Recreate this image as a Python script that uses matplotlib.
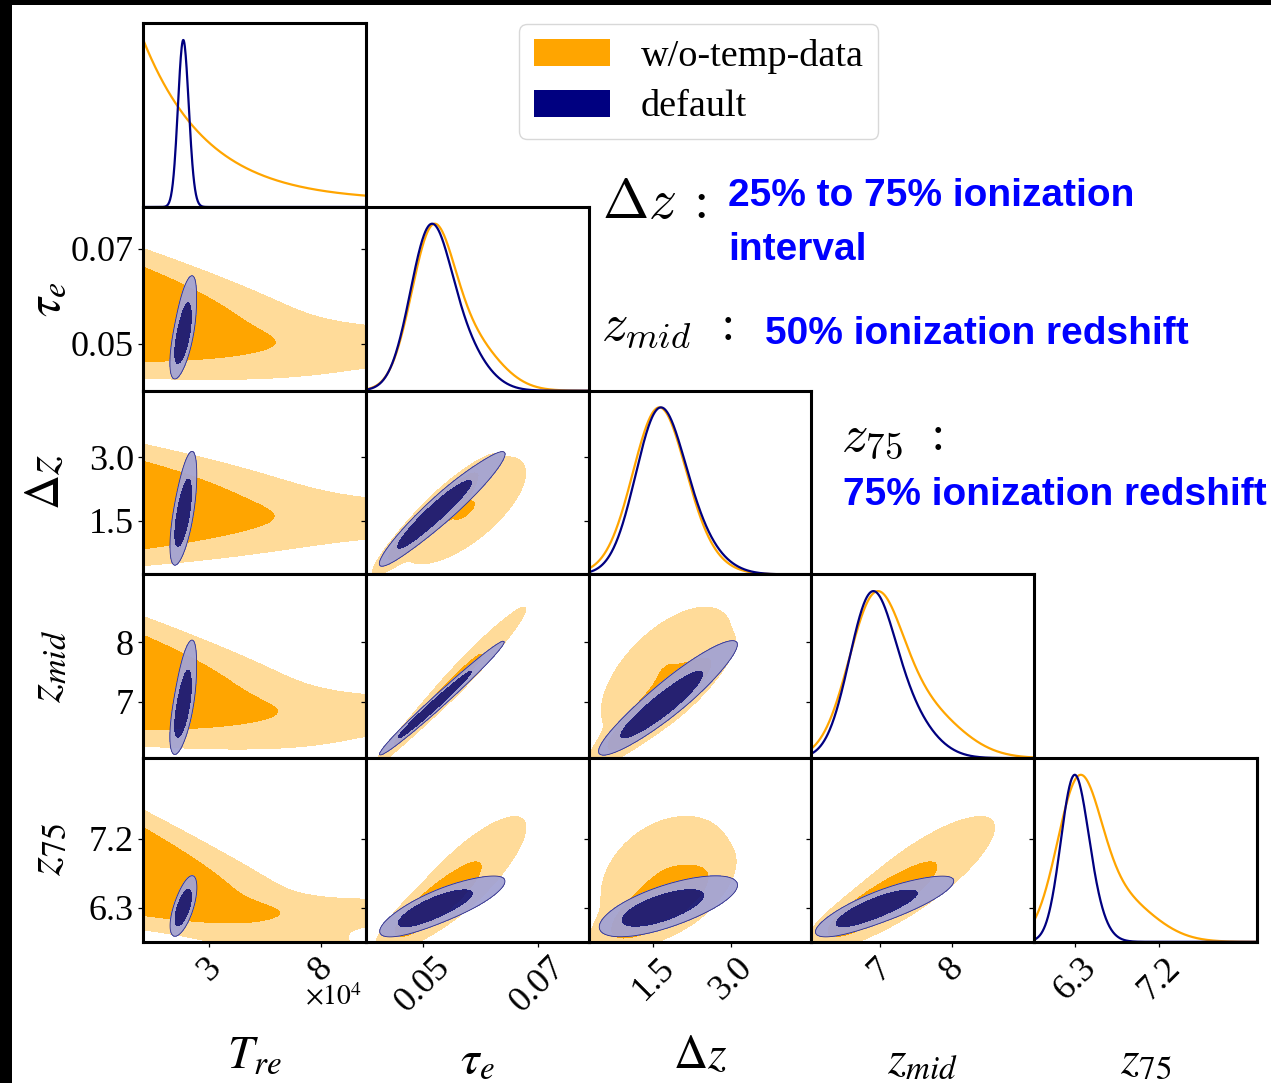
import numpy as np
import matplotlib
matplotlib.use("Agg")
import matplotlib.pyplot as plt
from matplotlib.patches import Patch, Rectangle

# ----------------------------------------------------------------------
# parameters, axis ranges and ticks (T_re in units of 1e4 K)
# ----------------------------------------------------------------------
LABELS = [r"$T_{re}$", r"$\tau_e$", r"$\Delta z$", r"$z_{mid}$", r"$z_{75}$"]
LIMITS = [(0.04, 10.03), (0.0402, 0.0787), (0.245, 4.56), (6.06, 9.13), (5.856, 8.25)]
TICKS = [[3, 8], [0.05, 0.07], [1.5, 3.0], [7, 8], [6.3, 7.2]]
TICK_LABELS = [["3", "8"], ["0.05", "0.07"], ["1.5", "3.0"], ["7", "8"], ["6.3", "7.2"]]

# "default" chain: two gaussian components over (T_re, tau_e, dz, z_mid, z_75)
DEF_WEIGHTS = [0.65, 0.35]
DEF_MEANS = [[1.80, 0.0510, 1.57, 6.86, 6.27],
             [1.92, 0.0555, 2.00, 7.25, 6.38]]
DEF_SIGMAS = [[0.23, 0.0034, 0.45, 0.30, 0.14],
              [0.25, 0.0045, 0.58, 0.40, 0.17]]
DEF_CORR = [[1.00, 0.62, 0.62, 0.62, 0.62],
            [0.62, 1.00, 0.95, 0.985, 0.80],
            [0.62, 0.95, 1.00, 0.92, 0.65],
            [0.62, 0.985, 0.92, 1.00, 0.82],
            [0.62, 0.80, 0.65, 0.82, 1.00]]

# "w/o-temp-data" chain: two gaussian components over (tau_e, dz, z_mid, z_75)
WO_WEIGHTS = [0.62, 0.38]
WO_MEANS = [[0.0515, 1.58, 6.92, 6.33],
            [0.0572, 1.75, 7.50, 6.70]]
WO_SIGMAS = [[0.0036, 0.48, 0.36, 0.23],
             [0.0054, 0.64, 0.55, 0.40]]
WO_CORR = [[[1.00, 0.95, 0.985, 0.85],
            [0.95, 1.00, 0.92, 0.75],
            [0.985, 0.92, 1.00, 0.85],
            [0.85, 0.75, 0.85, 1.00]],
           [[1.00, 0.70, 0.97, 0.82],
            [0.70, 1.00, 0.60, 0.30],
            [0.97, 0.60, 1.00, 0.82],
            [0.82, 0.30, 0.82, 1.00]]]

# w/o-temp-data, T_re direction: exponential fall-off plus a flat floor
WO_T_SCALE = 2.9
WO_T_FLOOR = 0.038
# conditional of (tau_e, dz, z_mid, z_75) on T_re for the two parts
WO_T_DECAY_MEAN = [0.0565, 1.88, 7.35, 6.82]
WO_T_DECAY_SLOPE = [-0.0009, -0.035, -0.08, -0.11]
WO_T_DECAY_SIGMA = [0.0054, 0.57, 0.43, 0.30]
WO_T_FLAT_MEAN = [0.0500, 1.57, 6.83, 6.25]
WO_T_FLAT_SIGMA = [0.0028, 0.32, 0.21, 0.12]

# explanatory notes: (math label, label x, colon x, y, size, description lines)
NOTES = [
    (r"$\Delta z$", 602, 695, 203, 40, [(728, 196, "25% to 75% ionization"), (728, 250, "interval")]),
    (r"$z_{mid}$", 601, 722, 325, 38, [(765, 334, "50% ionization redshift")]),
    (r"$z_{75}$", 841, 932, 435, 38, [(843, 495, "75% ionization redshift")]),
]

ORANGE = "#FFA500"
ORANGE_LIGHT = "#FFDB99"
NAVY = "#000080"
BLUE_LIGHT = "#A3A3D3"
BLUE_DARK = "#1A1A78"

FIG_W, FIG_H = 1271, 1083
X0, Y0 = 143.3, 23.3
CELL_W, CELL_H = 222.7, 183.7

SERIF = "Liberation Serif"


def gauss1(x, m, s):
    return np.exp(-0.5 * ((x - m) / s) ** 2) / s


def gauss2(x, y, mx, my, sx, sy, r):
    dx = (x - mx) / sx
    dy = (y - my) / sy
    q = (dx * dx - 2 * r * dx * dy + dy * dy) / (1 - r * r)
    return np.exp(-0.5 * q) / (sx * sy * np.sqrt(1 - r * r))


def default_1d(i, x):
    return sum(w * gauss1(x, m[i], s[i]) for w, m, s in zip(DEF_WEIGHTS, DEF_MEANS, DEF_SIGMAS))


def default_2d(i, j, x, y):
    r = DEF_CORR[i][j]
    return sum(w * gauss2(x, y, m[i], m[j], s[i], s[j], r)
               for w, m, s in zip(DEF_WEIGHTS, DEF_MEANS, DEF_SIGMAS))


def wo_1d(i, x):
    if i == 0:
        return np.exp(-x / WO_T_SCALE) + WO_T_FLOOR
    k = i - 1
    return sum(w * gauss1(x, m[k], s[k]) for w, m, s in zip(WO_WEIGHTS, WO_MEANS, WO_SIGMAS))


def wo_2d(i, j, x, y):
    if i == 0:
        k = j - 1
        decay = np.exp(-x / WO_T_SCALE) * gauss1(
            y, WO_T_DECAY_MEAN[k] + WO_T_DECAY_SLOPE[k] * x, WO_T_DECAY_SIGMA[k])
        flat = WO_T_FLOOR * gauss1(y, WO_T_FLAT_MEAN[k], WO_T_FLAT_SIGMA[k])
        return decay + flat
    a, b = i - 1, j - 1
    return sum(w * gauss2(x, y, m[a], m[b], s[a], s[b], c[a][b])
               for w, m, s, c in zip(WO_WEIGHTS, WO_MEANS, WO_SIGMAS, WO_CORR))


def hpd_levels(z, fracs=(0.95, 0.68)):
    flat = np.sort(z.ravel())[::-1]
    cum = np.cumsum(flat)
    cum /= cum[-1]
    return [flat[min(np.searchsorted(cum, f), flat.size - 1)] for f in fracs]


def grid_for(i, j, n=260):
    def axis(k):
        lo, hi = LIMITS[k]
        if k == 0:
            return np.linspace(lo, hi, n)
        pad = 0.6 * (hi - lo)
        return np.linspace(lo - pad, hi + pad, n)
    return np.meshgrid(axis(i), axis(j))


def cell_rect(row, col):
    left = (X0 + col * CELL_W) / FIG_W
    bottom = 1 - (Y0 + (row + 1) * CELL_H) / FIG_H
    return [left, bottom, CELL_W / FIG_W, CELL_H / FIG_H]


def style_axes(ax):
    for sp in ax.spines.values():
        sp.set_linewidth(2.2)
        sp.set_color("black")
    ax.tick_params(direction="out", length=3.8, width=0.9, colors="black",
                   labelsize=26, pad=3)
    for lab in ax.get_xticklabels() + ax.get_yticklabels():
        lab.set_fontfamily(SERIF)


fig = plt.figure(figsize=(FIG_W / 100, FIG_H / 100), dpi=100)
fig.patches.append(Rectangle((0, 1 - 5 / FIG_H), 1, 5 / FIG_H, transform=fig.transFigure,
                             facecolor="black", edgecolor="none", zorder=10))
fig.patches.append(Rectangle((0, 0), 12 / FIG_W, 1, transform=fig.transFigure,
                             facecolor="black", edgecolor="none", zorder=10))

n = len(LABELS)
for row in range(n):
    for col in range(row + 1):
        ax = fig.add_axes(cell_rect(row, col))
        xlo, xhi = LIMITS[col]
        if row == col:
            xs = np.linspace(xlo, xhi, 500)
            yo = wo_1d(col, xs)
            yb = default_1d(col, xs)
            ax.plot(xs, yo / yo.max(), color=ORANGE, lw=1.6)
            ax.plot(xs, yb / yb.max(), color=NAVY, lw=1.6)
            ax.set_ylim(0, 1.1)
            if row > 0:
                ylo, yhi = LIMITS[row]
                ax.set_yticks([(t - ylo) / (yhi - ylo) * 1.1 for t in TICKS[row]])
            else:
                ax.set_yticks([])
            ax.set_yticklabels([])
        else:
            X, Y = grid_for(col, row)
            zo = wo_2d(col, row, X, Y)
            lo95, lo68 = hpd_levels(zo)
            ax.contourf(X, Y, zo, levels=[lo95, lo68, zo.max() * 1.01],
                        colors=[ORANGE_LIGHT, ORANGE])
            zb = default_2d(col, row, X, Y)
            lb95, lb68 = hpd_levels(zb)
            ax.contourf(X, Y, zb, levels=[lb95, lb68, zb.max() * 1.01],
                        colors=[BLUE_LIGHT, BLUE_DARK], alpha=0.95)
            ax.contour(X, Y, zb, levels=[lb95], colors=["#2E2E8A"], linewidths=0.6)
            ax.set_ylim(*LIMITS[row])
            ax.set_yticks(TICKS[row])
            if col == 0:
                ax.set_yticklabels(TICK_LABELS[row])
            else:
                ax.set_yticklabels([])
        ax.set_xlim(xlo, xhi)
        ax.set_xticks(TICKS[col])
        if row == n - 1:
            ax.set_xticklabels(TICK_LABELS[col], rotation=45)
        else:
            ax.set_xticklabels([])
        style_axes(ax)

# axis labels
x_label_y = [1055, 1060, 1055, 1060, 1060]
for col, lab in enumerate(LABELS):
    cx = (X0 + (col + 0.5) * CELL_W) / FIG_W
    fig.text(cx, 1 - x_label_y[col] / FIG_H, lab, ha="center", va="center",
             fontsize=34, math_fontfamily="stix")
for row in range(1, n):
    cy = 1 - (Y0 + (row + 0.5) * CELL_H) / FIG_H
    fig.text(45 / FIG_W, cy, LABELS[row], ha="center", va="center", rotation=90,
             fontsize=35, math_fontfamily="stix")
fig.text(334 / FIG_W, 1 - 997 / FIG_H, r"$\times10^4$", ha="center", va="center",
         fontsize=20, math_fontfamily="stix")

# legend
fig.legend(handles=[Patch(facecolor=ORANGE, edgecolor="none"),
                    Patch(facecolor=NAVY, edgecolor="none")],
           labels=["w/o-temp-data", "default"],
           loc="upper left", bbox_to_anchor=(519 / FIG_W, 1 - 24 / FIG_H),
           prop={"family": SERIF, "size": 27.5}, frameon=True, fancybox=True,
           edgecolor="#D8D8D8", framealpha=1, borderpad=0.38, borderaxespad=0,
           handlelength=2.0, handleheight=0.71, handletextpad=0.81, labelspacing=0.42)

# explanatory notes
BLUE_TXT = "#0000FF"
SANS = "Liberation Sans"
for math, mx, cx, my, size, lines in NOTES:
    fig.text(mx / FIG_W, 1 - my / FIG_H, math, ha="left", va="center",
             fontsize=size, math_fontfamily="cm")
    fig.text(cx / FIG_W, 1 - my / FIG_H, r"$:$", ha="center", va="center",
             fontsize=size, math_fontfamily="cm")
    for tx, ty, txt in lines:
        fig.text(tx / FIG_W, 1 - ty / FIG_H, txt, ha="left", va="center",
                 fontsize=28, fontweight="bold", color=BLUE_TXT, family=SANS)

fig.savefig("out.png", dpi=100)
